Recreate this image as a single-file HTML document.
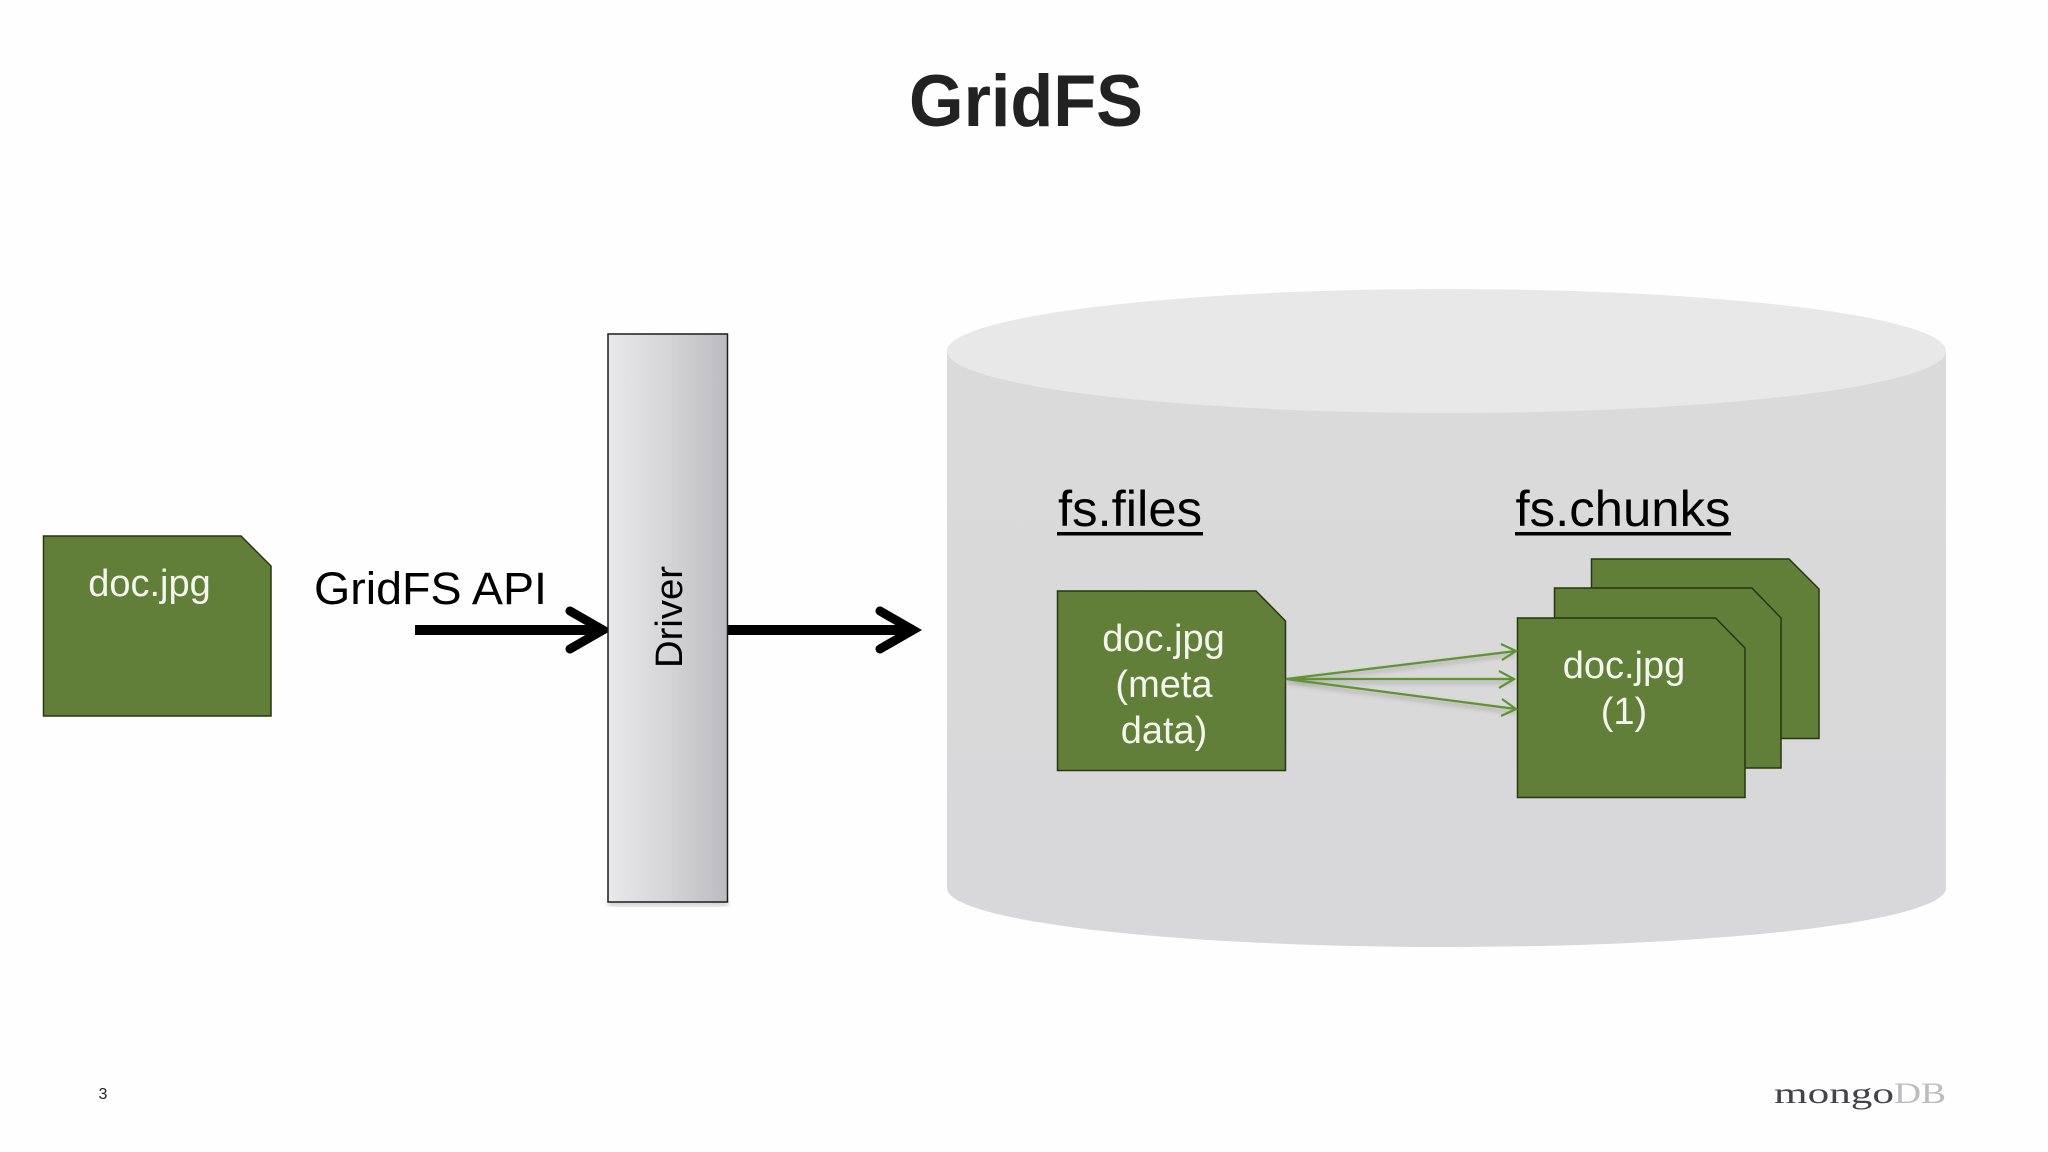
<!DOCTYPE html>
<html><head><meta charset="utf-8"><title>GridFS</title>
<style>html,body{margin:0;padding:0;background:#fff}svg{display:block}text{font-family:"Liberation Sans",sans-serif}</style>
</head><body>
<svg xmlns="http://www.w3.org/2000/svg" width="2048" height="1152" viewBox="0 0 2048 1152">
<defs>
<linearGradient id="drv" x1="0" x2="1" y1="0" y2="0"><stop offset="0" stop-color="#e9e9eb"/><stop offset="0.5" stop-color="#d5d5d7"/><stop offset="1" stop-color="#bcbbbf"/></linearGradient>
<linearGradient id="body" x1="0" x2="0" y1="0" y2="1"><stop offset="0" stop-color="#dadada"/><stop offset="1" stop-color="#d8d8da"/></linearGradient>
<filter id="blur" x="-20%" y="-20%" width="140%" height="140%"><feGaussianBlur stdDeviation="2.5"/></filter>
</defs>
<rect width="2048" height="1152" fill="#fefefe"/>
<text x="1026" y="126" font-size="73" font-weight="bold" fill="#222" text-anchor="middle" textLength="234" lengthAdjust="spacingAndGlyphs">GridFS</text>

<!-- cylinder -->
<path d="M947 351V888C947 921 1171 947 1446.5 947S1946 921 1946 888V351Z" fill="url(#body)"/>
<ellipse cx="1446.5" cy="351" rx="499.5" ry="62" fill="#e8e8e8"/>

<!-- doc left -->
<path d="M43.5 536H241L271 566V716H43.5Z" fill="#627f3a" stroke="#263610" stroke-width="1.5"/>
<text x="149.5" y="596" font-size="38" fill="#f4f6ee" text-anchor="middle">doc.jpg</text>
<text x="314" y="604" font-size="45" fill="#000" textLength="233" lengthAdjust="spacingAndGlyphs">GridFS API</text>

<!-- arrows -->
<g fill="none" stroke="#000">
<path d="M415 630H602" stroke-width="10"/>
<path d="M570 611L603 630L570 649" stroke-width="9" stroke-linecap="round"/>
<path d="M727 630H914" stroke-width="10"/>
<path d="M880 611L913 630L880 649" stroke-width="9" stroke-linecap="round"/>
</g>

<!-- driver -->
<rect x="608" y="901" width="120" height="5" fill="#aaa" opacity=".6" filter="url(#blur)"/>
<rect x="608" y="334" width="119.5" height="568" fill="url(#drv)" stroke="#1c1c1c" stroke-width="1.5"/>
<text transform="translate(682 668) rotate(-90)" font-size="38" fill="#000" textLength="102" lengthAdjust="spacingAndGlyphs">Driver</text>

<!-- labels -->
<text x="1058" y="526" font-size="50" fill="#000" textLength="144" lengthAdjust="spacingAndGlyphs">fs.files</text>
<rect x="1057" y="532" width="146" height="3.5" fill="#000"/>
<text x="1515.5" y="526" font-size="50" fill="#000" textLength="215" lengthAdjust="spacingAndGlyphs">fs.chunks</text>
<rect x="1515" y="532" width="216" height="3.5" fill="#000"/>

<!-- files doc -->
<path d="M1057.5 591H1256L1285.5 621V770.5H1057.5Z" fill="#627f3a" stroke="#263610" stroke-width="1.5"/>
<g font-size="38" fill="#f4f6ee" text-anchor="middle">
<text x="1163.5" y="651">doc.jpg</text>
<text x="1164" y="697">(meta</text>
<text x="1164" y="743">data)</text>
</g>

<!-- chunks -->
<path d="M1591.5 559H1789L1819 589V738.5H1591.5Z" fill="#627f3a" stroke="#263610" stroke-width="1.5"/>
<path d="M1554.5 588H1752L1781 618V768H1554.5Z" fill="#627f3a" stroke="#263610" stroke-width="1.5"/>
<path d="M1517.5 618H1715.5L1745 648V797.5H1517.5Z" fill="#627f3a" stroke="#263610" stroke-width="1.5"/>
<g font-size="38" fill="#f4f6ee" text-anchor="middle">
<text x="1624" y="678">doc.jpg</text>
<text x="1624" y="724">(1)</text>
</g>

<!-- connectors -->
<g fill="none" stroke="#8a8a80" stroke-width="3" opacity=".55" filter="url(#blur)">
<path d="M1286 682L1515 654M1286 682H1513M1286 682L1515 712"/>
</g>
<g fill="none" stroke="#5f9334" stroke-width="2.2">
<path d="M1286 679L1516 651M1286 679H1514M1286 679L1516 709"/>
<path d="M1501 644L1516 651L1502 660M1499 671L1514 679L1499 688M1502 699L1516 709L1501 716"/>
</g>

<!-- footer -->
<text x="103" y="1099" font-size="16" fill="#222" text-anchor="middle">3</text>
<text x="1774" y="1103" style="font-family:'Liberation Serif',serif" font-size="30" fill="#444347" textLength="120" lengthAdjust="spacingAndGlyphs">mongo</text>
<text x="1894" y="1103" style="font-family:'Liberation Serif',serif" font-size="30" fill="#bdbdc0" textLength="52" lengthAdjust="spacingAndGlyphs">DB</text>
</svg>
</body></html>
